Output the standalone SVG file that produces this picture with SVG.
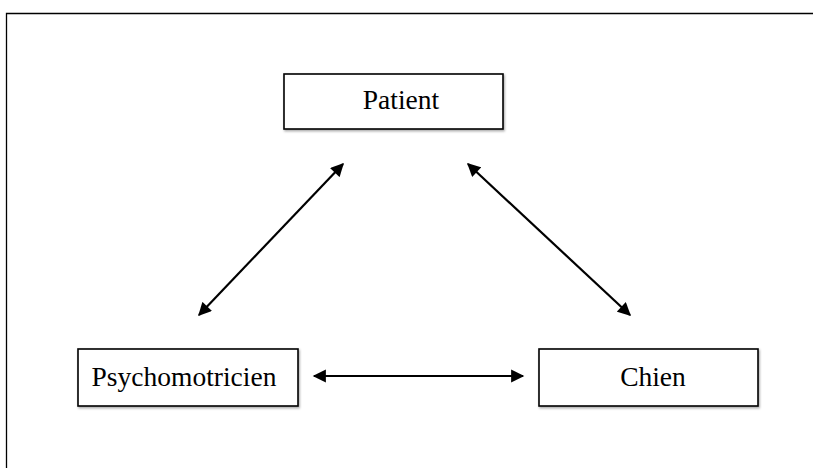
<svg xmlns="http://www.w3.org/2000/svg" width="813" height="468" viewBox="0 0 813 468">
<style>
.box{fill:#fff;stroke:#000;stroke-width:1.6}
.lbl{font-family:"Liberation Serif","Times New Roman",serif;font-size:27.5px;fill:#000}
.conn{stroke:#000;stroke-width:2.2;fill:none;marker-start:url(#ah);marker-end:url(#ah)}
</style>
<defs>
<marker id="ah" viewBox="0 0 10 10" refX="9" refY="5" markerWidth="6.5" markerHeight="6" orient="auto-start-reverse" markerUnits="strokeWidth">
<path d="M0,0 L10,5 L0,10 Z" fill="#000"/>
</marker>
<filter id="sh" x="-5%" y="-10%" width="115%" height="130%">
<feDropShadow dx="1" dy="1.5" stdDeviation="0.8" flood-color="#000" flood-opacity="0.35"/>
</filter>
</defs>
<rect width="813" height="468" fill="#fff"/>
<path d="M6.5,468 V13.5 H813" fill="none" stroke="#000" stroke-width="1.3"/>
<g id="patient">
<rect class="box" x="284" y="74" width="219" height="55" filter="url(#sh)"/>
<text class="lbl" x="401" y="109" text-anchor="middle">Patient</text>
</g>
<g id="psychomotricien">
<rect class="box" x="78" y="349" width="220" height="57" filter="url(#sh)"/>
<text class="lbl" x="184" y="386" text-anchor="middle">Psychomotricien</text>
</g>
<g id="chien">
<rect class="box" x="539" y="349" width="219" height="57" filter="url(#sh)"/>
<text class="lbl" x="653" y="386" text-anchor="middle">Chien</text>
</g>
<g id="connectors">
<line class="conn" x1="199" y1="315" x2="343" y2="164"/>
<line class="conn" x1="468" y1="164" x2="630" y2="315"/>
<line class="conn" x1="314" y1="376" x2="523" y2="376"/>
</g>
</svg>
